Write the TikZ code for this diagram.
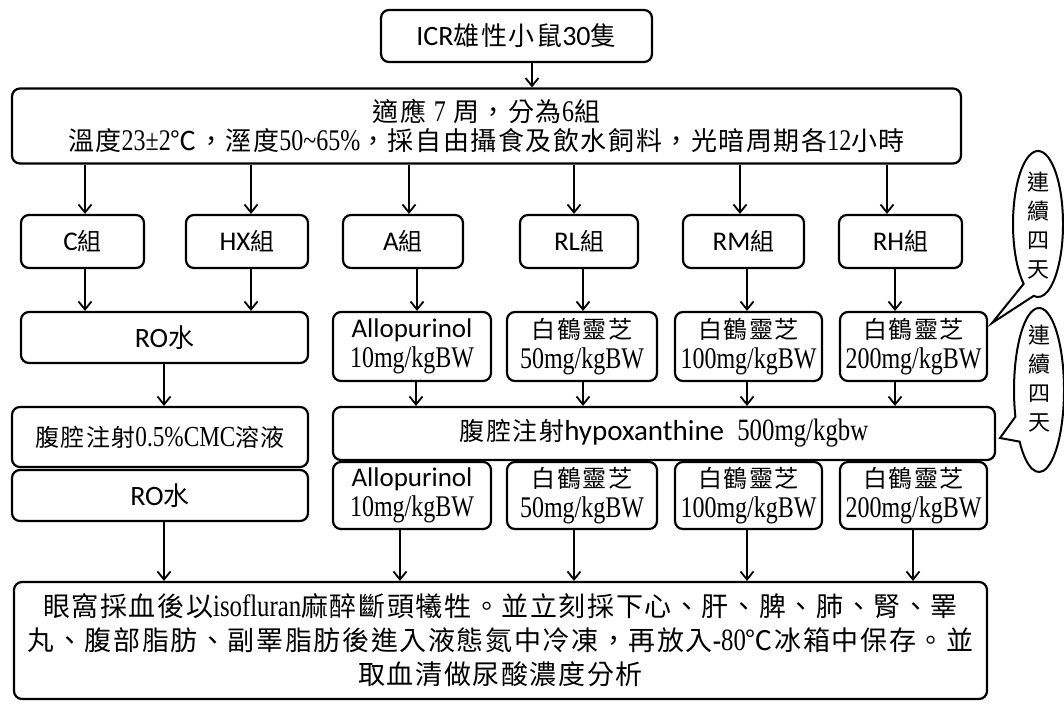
\documentclass[tikz,border=0pt]{standalone}
\usepackage{fontspec}
\setmainfont{Noto Sans CJK TC}[LetterSpace=6]
\newfontfamily\ser[FakeStretch=0.8]{Liberation Serif}
\newfontfamily\lat{Carlito}
\usetikzlibrary{arrows.meta,calc}
\begin{document}
\begin{tikzpicture}[x=1pt,y=-1pt,
  box/.style={draw, line width=2.2pt, rounded corners=8pt, inner sep=0pt, align=center},
  arr/.style={line width=1.8pt, -{Straight Barb[length=8pt,width=13pt]}},
  bub/.style={draw, line width=2pt},
  grp/.style={box, minimum height=53pt, font=\fontsize{24}{28}\selectfont},
  dose/.style={box, minimum height=69pt, font=\fontsize{24}{30}\selectfont},
  dose2/.style={box, minimum height=67pt, font=\fontsize{24}{30}\selectfont},
]
\useasboundingbox (0,0) rectangle (1064,704);

% top
\node[box, minimum width=271pt, minimum height=52pt, font=\fontsize{26}{30}\selectfont] (top) at (516.5,36) {{\lat\fontsize{28}{30}\selectfont ICR}雄性小鼠{\lat\fontsize{28}{30}\selectfont 30}隻};
\node[box, minimum width=949pt, minimum height=75pt, font=\fontsize{26}{29}\selectfont] (big) at (486.5,126)
  {適應 {\ser\fontsize{30}{29}\selectfont 7} 周，分為{\ser\fontsize{30}{29}\selectfont 6}組\\
   溫度{\ser\fontsize{30}{29}\selectfont 23±2}℃，溼度{\ser\fontsize{30}{29}\selectfont 50\textasciitilde65\%}，採自由攝食及飲水飼料，光暗周期各{\ser\fontsize{30}{29}\selectfont 12}小時};

% groups
\node[grp, minimum width=123pt] (C) at (82.5,241.5) {{\lat\fontsize{27}{28}\selectfont C}組};
\node[grp, minimum width=122pt] (HX) at (247,241.5) {{\lat\fontsize{27}{28}\selectfont HX}組};
\node[grp, minimum width=120pt] (A) at (403,241.5) {{\lat\fontsize{27}{28}\selectfont A}組};
\node[grp, minimum width=118pt] (RL) at (579,241.5) {{\lat\fontsize{27}{28}\selectfont RL}組};
\node[grp, minimum width=121pt] (RM) at (743.5,241.5) {{\lat\fontsize{27}{28}\selectfont RM}組};
\node[grp, minimum width=123pt] (RH) at (900.5,241.5) {{\lat\fontsize{27}{28}\selectfont RH}組};

% row 1
\node[box, minimum width=287pt, minimum height=51pt] (RO1) at (164.5,337.5) {{\lat\fontsize{28}{28}\selectfont RO}{\fontsize{26}{28}\selectfont 水}};
\node[dose, minimum width=158pt] (Al1) at (412,346.5) {{\lat\fontsize{27}{30}\selectfont Allopurinol}\\{\ser\fontsize{30}{30}\selectfont 10mg/kgBW}};
\node[dose, minimum width=150pt] (La1) at (582,346.5) {白鶴靈芝\\{\ser\fontsize{30}{30}\selectfont 50mg/kgBW}};
\node[dose, minimum width=147pt] (Ma1) at (748.5,346.5) {白鶴靈芝\\{\ser\fontsize{30}{30}\selectfont 100mg/kgBW}};
\node[dose, minimum width=147pt] (Ha1) at (913.5,346.5) {白鶴靈芝\\{\ser\fontsize{30}{30}\selectfont 200mg/kgBW}};

% injection
\node[box, minimum width=296pt, minimum height=60pt, font=\fontsize{24}{28}\selectfont] (CMC) at (160,437) {腹腔注射{\ser\fontsize{29}{28}\selectfont 0.5\%CMC}溶液};
\node[box, minimum width=296pt, minimum height=51pt] (RO2) at (160,495.5) {{\lat\fontsize{28}{28}\selectfont RO}{\fontsize{26}{28}\selectfont 水}};
\node[box, minimum width=662pt, minimum height=53pt, font=\fontsize{25}{28}\selectfont] (hyp) at (664,433.5) {腹腔注射{\lat\fontsize{29}{28}\selectfont hypoxanthine\ \ }{\ser\fontsize{31}{28}\selectfont 500mg/kgbw}};

% row 2
\node[dose2, minimum width=158pt] (Al2) at (412,495.5) {{\lat\fontsize{27}{30}\selectfont Allopurinol}\\{\ser\fontsize{30}{30}\selectfont 10mg/kgBW}};
\node[dose2, minimum width=150pt] (La2) at (582,495.5) {白鶴靈芝\\{\ser\fontsize{30}{30}\selectfont 50mg/kgBW}};
\node[dose2, minimum width=147pt] (Ma2) at (748.5,495.5) {白鶴靈芝\\{\ser\fontsize{30}{30}\selectfont 100mg/kgBW}};
\node[dose2, minimum width=147pt] (Ha2) at (913.5,495.5) {白鶴靈芝\\{\ser\fontsize{30}{30}\selectfont 200mg/kgBW}};

% bottom
\node[box, minimum width=973pt, minimum height=117pt, font=\fontsize{27}{34}\selectfont] (bot) at (500.5,640.5)
  {眼窩採血後以{\ser\fontsize{31}{34}\selectfont isofluran}麻醉斷頭犧牲。並立刻採下心、肝、脾、肺、腎、睪\\
   丸、腹部脂肪、副睪脂肪後進入液態氮中冷凍，再放入{\ser\fontsize{31}{34}\selectfont -80}℃冰箱中保存。並\\
   取血清做尿酸濃度分析};

% arrows
\draw[arr] (532,0 |- top.south) -- (532,0 |- big.north);
\draw[arr] (85,0 |- big.south) -- (85,0 |- C.north);
\draw[arr] (251,0 |- big.south) -- (251,0 |- HX.north);
\draw[arr] (409,0 |- big.south) -- (409,0 |- A.north);
\draw[arr] (574,0 |- big.south) -- (574,0 |- RL.north);
\draw[arr] (740,0 |- big.south) -- (740,0 |- RM.north);
\draw[arr] (887,0 |- big.south) -- (887,0 |- RH.north);

\draw[arr] (85,0 |- C.south) -- (85,0 |- RO1.north);
\draw[arr] (251,0 |- HX.south) -- (251,0 |- RO1.north);
\draw[arr] (417,0 |- A.south) -- (417,0 |- Al1.north);
\draw[arr] (583,0 |- RL.south) -- (583,0 |- La1.north);
\draw[arr] (747,0 |- RM.south) -- (747,0 |- Ma1.north);
\draw[arr] (895,0 |- RH.south) -- (895,0 |- Ha1.north);

\draw[arr] (164,0 |- RO1.south) -- (164,0 |- CMC.north);
\draw[arr] (416,0 |- Al1.south) -- (416,0 |- hyp.north);
\draw[arr] (583,0 |- La1.south) -- (583,0 |- hyp.north);
\draw[arr] (747,0 |- Ma1.south) -- (747,0 |- hyp.north);
\draw[arr] (895,0 |- Ha1.south) -- (895,0 |- hyp.north);

\draw[arr] (164,0 |- RO2.south) -- (164,0 |- bot.north);
\draw[arr] (400,0 |- Al2.south) -- (400,0 |- bot.north);
\draw[arr] (574,0 |- La2.south) -- (574,0 |- bot.north);
\draw[arr] (747,0 |- Ma2.south) -- (747,0 |- bot.north);
\draw[arr] (913,0 |- Ha2.south) -- (913,0 |- bot.north);

% callouts
\draw[bub] (1038,224) ++(125:25 and 73) arc[start angle=125, end angle=460, x radius=25, y radius=73] -- (992,323) -- cycle;
\node[align=center, inner sep=0pt, font=\fontsize{22}{29}\selectfont] (b1) at (1038,226) {連\\續\\四\\天};
\draw[bub] (1039,390) ++(161:25 and 82) arc[start angle=161, end angle=501, x radius=25, y radius=82] -- (1000,438) -- cycle;
\node[align=center, inner sep=0pt, font=\fontsize{22}{29}\selectfont] (b2) at (1039,379) {連\\續\\四\\天};
\end{tikzpicture}
\end{document}
